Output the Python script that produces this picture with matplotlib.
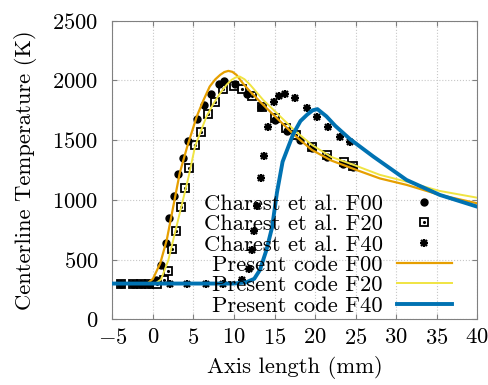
import numpy as np
import matplotlib
matplotlib.use("Agg")
import matplotlib.pyplot as plt
from matplotlib.legend_handler import HandlerTuple

plt.rcParams['font.family'] = 'cmr10'
plt.rcParams['mathtext.fontset'] = 'cm'
plt.rcParams['axes.formatter.use_mathtext'] = True
plt.rcParams['font.size'] = 16.3

# Charest et al. reference points
f00_x = [-4, -2.5, -1.5, -0.5, 0.4, 1.0, 1.6, 2.0, 2.6, 3.1, 3.7, 4.3, 5.4, 6.3, 7.2, 8.1, 8.8,
         10.1, 11.6, 13.3, 15.0, 16.5, 18.1, 19.6, 21.5, 23.4, 24.7]
f00_T = [300, 300, 300, 300, 330, 453, 637, 852, 1036, 1215, 1349, 1491, 1676, 1796, 1888, 1971, 1997,
         1969, 1885, 1781, 1665, 1575, 1500, 1437, 1360, 1304, 1279]

f20_x = [-4, -2.5, -1.5, -0.5, 0.5, 1.3, 1.8, 2.3, 2.9, 3.4, 3.9, 4.4, 5.2, 5.9, 6.8, 7.7, 8.7,
         10.0, 11.0, 12.2, 13.5, 15.0, 16.4, 17.7, 19.6, 21.5, 23.6, 24.7]
f20_T = [300, 300, 300, 300, 300, 330, 408, 590, 740, 944, 1100, 1265, 1461, 1572, 1723, 1823, 1925,
         1957, 1932, 1870, 1776, 1685, 1600, 1544, 1443, 1378, 1318, 1285]

f40_x = [-4, -2.5, -1.5, -0.5, 2.1, 4.2, 6.5, 8.7, 11.0, 11.8, 12.2, 12.5, 12.9, 13.3, 13.7, 14.2,
         14.9, 15.5, 16.3, 17.5, 19.0, 20.3, 21.6, 23.1, 24.3]
f40_T = [300, 300, 300, 300, 300, 300, 300, 300, 330, 420, 585, 738, 952, 1182, 1367, 1607,
         1816, 1871, 1885, 1857, 1768, 1693, 1609, 1530, 1483]

# present code curves
c00_x = [-5, -0.7, 0.0, 0.9, 1.7, 2.5, 3.3, 4.2, 5.4, 6.2, 7.0, 7.7, 8.3, 8.8, 9.3, 9.8, 10.3,
         11.1, 12.0, 13.6, 15.3, 17.5, 19.6, 22.0, 25.1, 28.0, 31.3, 35.4, 40]
c00_T = [300, 300, 340, 470, 665, 944, 1224, 1440, 1698, 1830, 1949, 2010, 2047, 2070, 2080, 2072, 2047,
         1975, 1907, 1796, 1684, 1540, 1419, 1330, 1251, 1180, 1126, 1042, 972]

c20_x = [-5, 0.3, 1.0, 1.9, 2.7, 3.5, 4.4, 5.2, 6.6, 7.5, 8.3, 9.1, 9.7, 10.2, 10.7, 11.3, 12.0,
         13.6, 15.3, 17.5, 19.6, 22.0, 25.1, 28.0, 31.3, 35.4, 40]
c20_T = [300, 300, 335, 497, 721, 944, 1195, 1450, 1698, 1810, 1894, 1965, 2005, 2025, 2033, 2010, 1963,
         1837, 1726, 1580, 1461, 1360, 1285, 1210, 1153, 1075, 1019]

c40_x = [-5, 10.0, 11.5, 12.5, 13.2, 14.0, 14.7, 15.3, 16.0, 17.3, 18.2, 19.0, 19.7, 20.3,
         21.4, 22.5, 24.3, 27.2, 31.3, 35.4, 40]
c40_T = [300, 300, 310, 340, 414, 580, 770, 1060, 1320, 1550, 1660, 1712, 1750, 1760,
         1700, 1620, 1510, 1363, 1167, 1042, 944]

fig = plt.figure(figsize=(4.88, 3.85), dpi=100)
ax = fig.add_axes([0.2305, 0.1704, 0.747, 0.7758])

h1, = ax.plot(f00_x, f00_T, 'o', color='black', ms=5, ls='none', zorder=3)
h2a, = ax.plot(f20_x, f20_T, 's', mfc='none', mec='black', mew=1.3, ms=6, ls='none', zorder=3)
h2b, = ax.plot(f20_x, f20_T, '.', color='black', ms=2.5, ls='none', zorder=3)
h3a, = ax.plot(f40_x, f40_T, 'x', color='black', mew=1.6, ms=5, ls='none', zorder=3)
h3b, = ax.plot(f40_x, f40_T, '+', color='black', mew=1.6, ms=6, ls='none', zorder=3)
l1, = ax.plot(c00_x, c00_T, color='#E69F00', lw=1.6, zorder=4)
l2, = ax.plot(c20_x, c20_T, color='#F0E442', lw=1.4, zorder=4)
l3, = ax.plot(c40_x, c40_T, color='#0072B2', lw=2.8, zorder=4)

ax.set_xlim(-5, 40)
ax.set_ylim(0, 2500)
ax.set_xticks(np.arange(-5, 41, 5))
ax.set_yticks(np.arange(0, 2501, 500))
ax.grid(True, color='#c8c8c8', ls=':', lw=0.8)
ax.set_axisbelow(True)
for s in ['top', 'left', 'bottom', 'right']:
    ax.spines[s].set_color('#808080')
ax.tick_params(direction='in', top=True, right=True, length=3.5, color='#808080')
ax.tick_params(axis='x', pad=6)
ax.tick_params(axis='y', pad=10)

ax.set_xlabel('Axis length (mm)', labelpad=6)
ax.set_ylabel('Centerline Temperature (K)', labelpad=11)

leg = ax.legend([h1, (h2a, h2b), (h3a, h3b), l1, l2, l3],
                ['Charest et al. F00', 'Charest et al. F20', 'Charest et al. F40',
                 'Present code F00', 'Present code F20', 'Present code F40'],
                handler_map={tuple: HandlerTuple(ndivide=1, pad=0)},
                loc='lower right', bbox_to_anchor=(0.931, 0.013),
                markerfirst=False, frameon=False,
                handlelength=2.43, handletextpad=0.62, labelspacing=0.02,
                borderaxespad=0, borderpad=0, fontsize=16.3)

fig.savefig('out.png', dpi=100)
